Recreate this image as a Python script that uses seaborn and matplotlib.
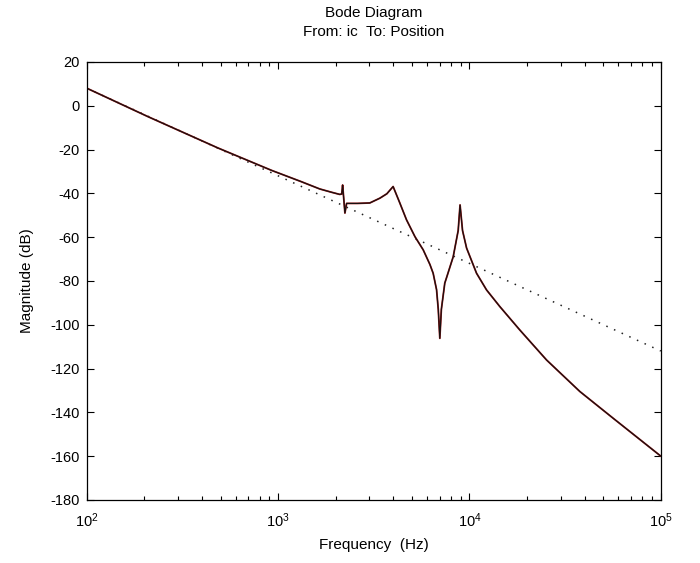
import numpy as np
import pandas as pd
import matplotlib
matplotlib.use("Agg")
import matplotlib.pyplot as plt
import matplotlib.ticker as mticker
import seaborn as sns

# Values (magnitude in dB vs frequency in Hz)
freq_hz = [100, 209, 485, 923, 1324, 1650, 1900, 2100, 2150, 2173, 2234, 2280,
           2600, 3013, 3404, 3700, 3990, 4325, 4688, 5190, 5730, 6214, 6460,
           6730, 6870, 7000, 7130, 7430, 7590, 8220, 8730, 8930, 9200, 9660,
           10890, 12280, 14410, 18330, 25290, 37770, 56370, 100000]
mag_db = [8.0, -5.0, -19.3, -29.5, -34.7, -38.0, -39.5, -40.5, -40.3, -36.2,
          -49.0, -44.6, -44.6, -44.4, -42.2, -40.2, -36.9, -44.4, -52.1, -59.8,
          -65.8, -72.5, -76.5, -84.0, -93.0, -106.2, -93.0, -81.0, -78.5, -69.0,
          -57.0, -45.3, -57.0, -65.0, -76.5, -84.1, -91.7, -102.4, -116.1,
          -130.5, -142.7, -160.0]

# rigid-body asymptote (dotted), end points
asym_hz = [100, 100000]
asym_db = [8.0, -112.0]

plant = pd.DataFrame({"freq": freq_hz, "mag": mag_db})
asym = pd.DataFrame({"freq": asym_hz, "mag": asym_db})

sns.set_style("ticks")
plt.rcParams["font.family"] = ["Liberation Sans", "DejaVu Sans"]
plt.rcParams["font.size"] = 10
plt.rcParams["axes.unicode_minus"] = False
plt.rcParams["text.color"] = "black"
plt.rcParams["axes.labelcolor"] = "black"
plt.rcParams["xtick.color"] = "black"
plt.rcParams["ytick.color"] = "black"

fig, ax = plt.subplots(figsize=(7.0, 5.63), dpi=100)
fig.subplots_adjust(left=0.124, right=0.944, bottom=0.112, top=0.890)

sns.lineplot(data=asym, x="freq", y="mag", ax=ax, color="#222222",
             linestyle=(0, (1, 4.5)), linewidth=1.1, sort=False, estimator=None)
sns.lineplot(data=plant, x="freq", y="mag", ax=ax, color="#a01818",
             linewidth=1.3, sort=False, estimator=None)
sns.lineplot(data=plant, x="freq", y="mag", ax=ax, color="#161010",
             linewidth=0.85, sort=False, estimator=None)

ax.set_xscale("log")
ax.set_xlim(100, 100000)
ax.set_ylim(-180, 20)
ax.set_yticks(np.arange(-180, 21, 20))
ax.xaxis.set_minor_locator(mticker.LogLocator(base=10, subs=np.arange(2, 10)))
ax.xaxis.set_minor_formatter(mticker.NullFormatter())

ax.tick_params(which="both", direction="in", top=True, right=True,
               color="black", labelsize=10.5)
ax.tick_params(axis="x", which="major", pad=8)
ax.tick_params(axis="y", which="major", pad=5)
ax.tick_params(which="major", length=5, width=0.8)
ax.tick_params(which="minor", length=3, width=0.8)
for sp in ax.spines.values():
    sp.set_visible(True)
    sp.set_color("black")
    sp.set_linewidth(0.9)

ax.set_xlabel("Frequency  (Hz)", fontsize=11, labelpad=6)
ax.set_ylabel("Magnitude (dB)", fontsize=11, labelpad=12)

fig.text(0.534, 0.977, "Bode Diagram", ha="center", va="center", fontsize=11)
fig.text(0.534, 0.943, "From: ic  To: Position", ha="center", va="center",
         fontsize=11)

fig.savefig("out.png", dpi=100)
